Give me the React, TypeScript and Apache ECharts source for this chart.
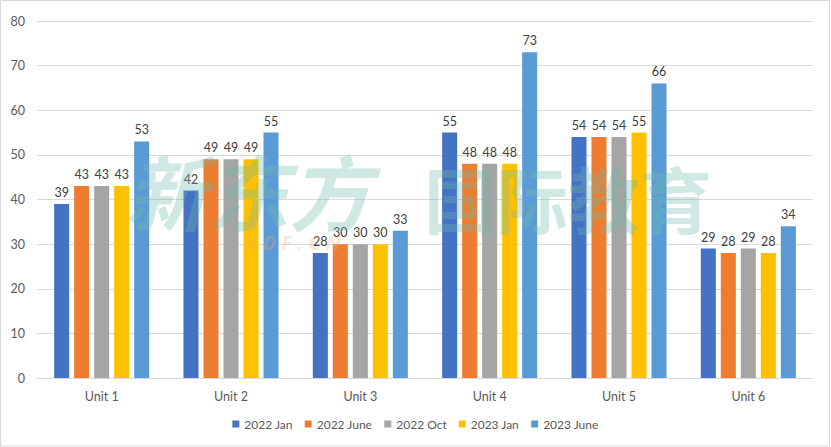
import React, { useEffect, useRef } from "react";
import * as echarts from "echarts";

const categories = ["Unit 1", "Unit 2", "Unit 3", "Unit 4", "Unit 5", "Unit 6"];
const seriesNames = ["2022 Jan", "2022 June", "2022 Oct", "2023 Jan", "2023 June"];
const jan2022 = [39, 42, 28, 55, 54, 29];
const june2022 = [43, 49, 30, 48, 54, 28];
const oct2022 = [43, 49, 30, 48, 54, 29];
const jan2023 = [43, 49, 30, 48, 55, 28];
const june2023 = [53, 55, 33, 73, 66, 34];
const yTicks = [0, 80, 10];
const colors = ["#4472C4", "#ED7D31", "#A5A5A5", "#FFC000", "#5B9BD5"];

const FONT = "Lato, 'Noto Sans', sans-serif";

export default function App() {
  const ref = useRef<HTMLDivElement>(null);
  useEffect(() => {
    const chart = echarts.init(ref.current!, null, { renderer: "svg" });
    const values = [jan2022, june2022, oct2022, jan2023, june2023];
    chart.setOption({
      animation: false,
      textStyle: { fontFamily: FONT },
      color: colors,
      grid: { left: 37, top: 21, width: 776, height: 357, containLabel: false },
      legend: {
        bottom: 12,
        left: "center",
        itemWidth: 7,
        itemHeight: 7,
        itemGap: 12,
        icon: "rect",
        textStyle: { color: "#595959", fontSize: 12, fontFamily: FONT },
        data: seriesNames,
      },
      xAxis: {
        type: "category",
        data: categories,
        axisLine: { lineStyle: { color: "#d9d9d9", width: 1 } },
        axisTick: { show: false },
        axisLabel: { color: "#595959", fontSize: 12.5, margin: 12, fontFamily: FONT },
      },
      yAxis: {
        type: "value",
        min: yTicks[0],
        max: yTicks[1],
        interval: yTicks[2],
        axisLine: { show: false },
        axisTick: { show: false },
        splitLine: { lineStyle: { color: "#d9d9d9", width: 1 } },
        axisLabel: { color: "#595959", fontSize: 12.5, margin: 12, fontFamily: FONT },
      },
      series: seriesNames.map((name, i) => ({
        name,
        type: "bar",
        data: values[i],
        barGap: "33%",
        barCategoryGap: "26.5%",
        itemStyle: { color: colors[i] },
        label: {
          show: true,
          position: "top",
          distance: 5,
          color: "#404040",
          fontSize: 12.5,
          fontFamily: FONT,
        },
      })),
      graphic: [
        {
          type: "rect",
          silent: true,
          shape: { x: 0.5, y: 0.5, width: 829, height: 445.5 },
          style: { fill: "none", stroke: "#d9d9d9", lineWidth: 1 },
        },
        {
          type: "text",
          silent: true,
          z: 100,
          left: 125,
          top: 148,
          style: {
            text: "新东方",
            fill: "rgba(110,185,170,0.33)",
            font: "italic bold 82px 'Noto Sans CJK SC'",
          },
        },
        {
          type: "text",
          silent: true,
          z: 100,
          left: 245,
          top: 232,
          style: {
            text: "X D F . C N",
            fill: "rgba(240,170,110,0.28)",
            font: "italic bold 20px 'Noto Sans', sans-serif",
          },
        },
        {
          type: "text",
          silent: true,
          z: 100,
          left: 424,
          top: 160,
          style: {
            text: "国际教育",
            fill: "rgba(110,185,170,0.33)",
            font: "bold 72px 'Noto Sans CJK SC'",
          },
        },
      ],
    });
    return () => chart.dispose();
  }, []);
  return (
    <div
      ref={ref}
      style={{ position: "absolute", left: 0, top: 0, width: 831, height: 447, background: "#fff" }}
    />
  );
}
